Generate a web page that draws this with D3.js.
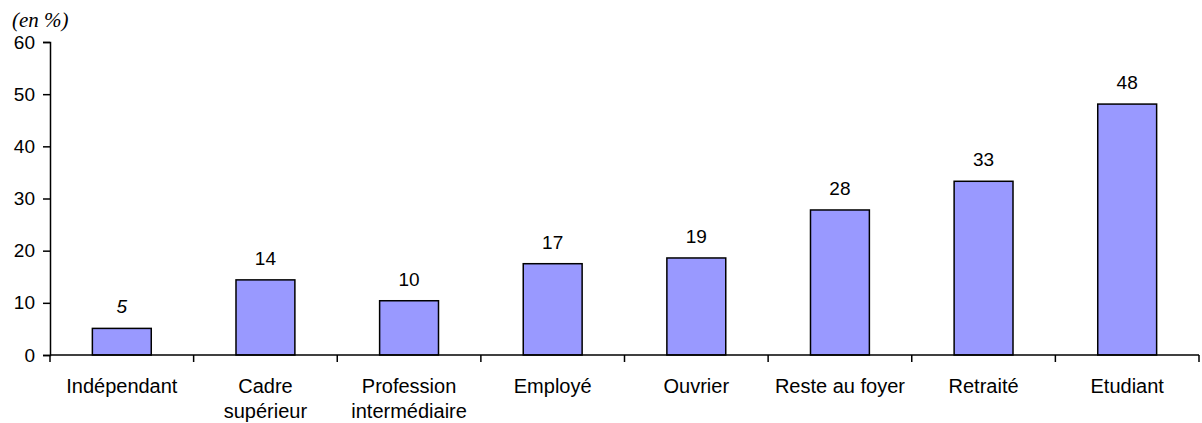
<!DOCTYPE html>
<html><head><meta charset="utf-8">
<script src="https://cdn.jsdelivr.net/npm/d3@7"></script>
<style>body{margin:0;background:#fff}svg{display:block}</style>
</head><body>
<script>
const categories = [["Indépendant"],["Cadre","supérieur"],["Profession","intermédiaire"],["Employé"],["Ouvrier"],["Reste au foyer"],["Retraité"],["Etudiant"]];
const values = [5.1, 14.4, 10.4, 17.5, 18.6, 27.8, 33.3, 48.1];
const valueLabels = ["5","14","10","17","19","28","33","48"];
const yTicks = [0,10,20,30,40,50,60];

const W=1202,H=423;
const svg=d3.select("body").append("svg").attr("width",W).attr("height",H);
const x0=50,x1=1199,yTop=42,yBot=355;
const x=d3.scaleBand().domain(d3.range(categories.length)).range([x0,x1]).paddingInner(0.59).paddingOuter(0.295);
const y=d3.scaleLinear().domain([0,60]).range([yBot,yTop]);
const font="Liberation Sans, Arial, sans-serif";

svg.append("text").attr("x",12).attr("y",27).attr("font-family","Liberation Serif, Times New Roman, serif")
  .attr("font-style","italic").attr("font-size",21).text("(en %)");

const yAxis=d3.axisLeft(y).tickValues(yTicks).tickSize(7).tickPadding(8);
const gy=svg.append("g").attr("transform",`translate(${x0},0)`).call(yAxis);
gy.selectAll("text").attr("font-family",font).attr("font-size",19).attr("fill","#000");
gy.select(".domain").attr("stroke","#000").attr("stroke-width",1.5);
gy.selectAll("line").attr("stroke","#000").attr("stroke-width",1.5);

svg.append("g").selectAll("rect").data(values).join("rect")
  .attr("x",(d,i)=>x(i)).attr("width",x.bandwidth())
  .attr("y",d=>y(d)).attr("height",d=>y(0)-y(d))
  .attr("fill","#9999ff").attr("stroke","#000").attr("stroke-width",1.5);

svg.append("g").selectAll("text").data(values).join("text")
  .attr("x",(d,i)=>x(i)+x.bandwidth()/2).attr("y",d=>y(d)-15)
  .attr("text-anchor","middle").attr("font-family",font).attr("font-size",19)
  .attr("font-style",(d,i)=>i===0?"italic":"normal")
  .text((d,i)=>valueLabels[i]);

// x axis
const step=x.step();
const gx=svg.append("g");
gx.append("line").attr("x1",x0).attr("x2",x1).attr("y1",yBot).attr("y2",yBot).attr("stroke","#000").attr("stroke-width",1.5);
gx.selectAll("line.t").data(d3.range(categories.length+1)).join("line").attr("class","t")
  .attr("x1",i=>x0+i*step).attr("x2",i=>x0+i*step).attr("y1",yBot).attr("y2",yBot+7)
  .attr("stroke","#000").attr("stroke-width",1.5);
const lbl=gx.selectAll("text").data(categories).join("text")
  .attr("text-anchor","middle").attr("font-family",font).attr("font-size",20)
  .attr("transform",(d,i)=>`translate(${x(i)+x.bandwidth()/2},${yBot+38})`);
lbl.selectAll("tspan").data(d=>d).join("tspan").attr("x",0).attr("dy",(d,j)=>j===0?0:25).text(d=>d);
</script>
</body></html>
